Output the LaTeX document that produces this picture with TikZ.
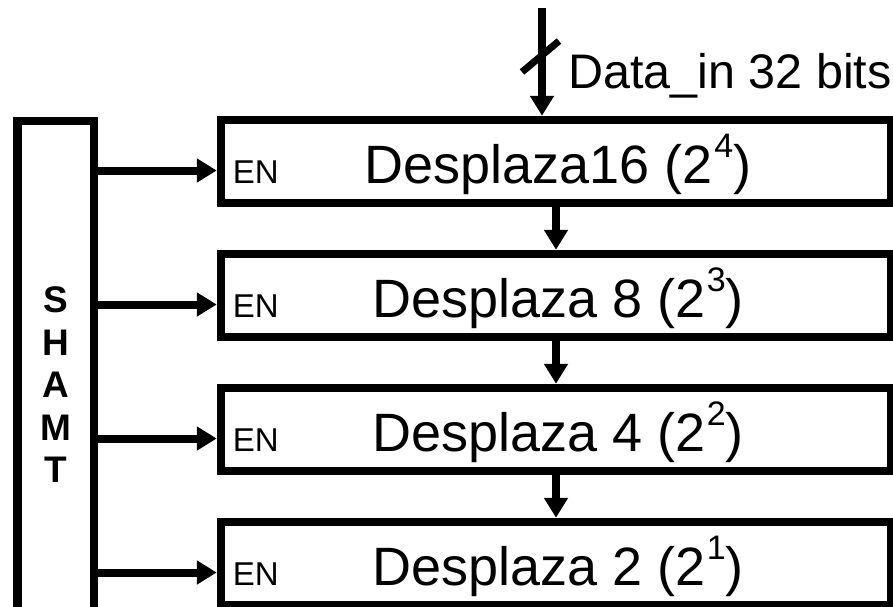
\documentclass[tikz,border=0pt]{standalone}
\usepackage{fontspec}
\setmainfont{Liberation Sans}
\usetikzlibrary{arrows.meta}
% raised, reduced digit for the powers of two
\newcommand{\pwr}[1]{\kern1.5pt\raisebox{26pt}{\fontsize{34}{34}\selectfont #1}}

\begin{document}
\begin{tikzpicture}[x=1pt,y=-1pt,
  stage/.style={draw, line width=8.5pt, minimum width=670pt, minimum height=83pt, inner sep=0pt},
  shamtbar/.style={draw, line width=8.5pt, minimum width=76.5pt, minimum height=528pt,
    inner sep=0pt, align=center, font=\fontsize{37}{42.5}\selectfont\bfseries},
  sig/.style={line width=8pt, -{Triangle[length=20pt,width=23pt]}},
  buslash/.style={line width=7pt},
  stagetext/.style={anchor=base, inner sep=0pt, font=\fontsize{54}{60}\selectfont},
  entext/.style={anchor=base west, inner sep=0pt, font=\fontsize{33}{36}\selectfont},
  datatext/.style={anchor=base west, inner sep=0pt, font=\fontsize{48.5}{54}\selectfont}]
\useasboundingbox (0,0) rectangle (893,606);

% shift amount register
\node[shamtbar] (shamt) at (55.75,385) {S\\H\\A\\M\\T};

% shifter stages
\node[stage] (s16) at (556,161.5) {};
\node[stage] (s8)  at (556,295.5) {};
\node[stage] (s4)  at (556,429.5) {};
\node[stage] (s2)  at (556,563.5) {};

\foreach \s/\txt in {s16/{Desplaza16 (2\pwr{4})}, s8/{Desplaza 8 (2\pwr{3})},
                     s4/{Desplaza 4 (2\pwr{2})}, s2/{Desplaza 2 (2\pwr{1})}}{
  \node[stagetext] (\s-lbl) at ([xshift=2pt,yshift=-22pt]\s.center) {\txt};
  \node[entext] (\s-en) at ([xshift=16pt,yshift=-22pt]\s.west) {EN};
  \draw[sig] ([yshift=-9pt]\s.west -| shamt.east) -- ([yshift=-9pt]\s.west);
}

% data path between stages
\draw[sig] (s16.south) -- (s16.south |- s8.north);
\draw[sig] (s8.south) -- (s8.south |- s4.north);
\draw[sig] (s4.south) -- (s4.south |- s2.north);

% 32-bit input bus
\coordinate (din) at (542,8);
\coordinate (bus) at (541,56);
\draw[sig] (din) -- (din |- s16.north);
\draw[buslash] ([shift={(-19,16)}]bus) -- ([shift={(18,-15)}]bus);
\node[datatext] (dlabel) at (568,88) {Data\_in 32 bits};
\end{tikzpicture}
\end{document}
